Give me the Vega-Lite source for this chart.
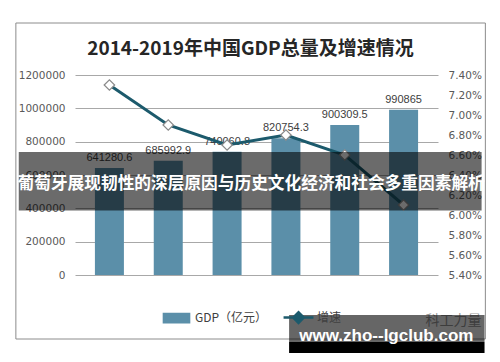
{
  "$schema": "https://vega.github.io/schema/vega-lite/v6.json",
  "width": 363,
  "height": 200,
  "autosize": "none",
  "padding": {"left": 75, "top": 75, "right": 62, "bottom": 87},
  "background": "white",
  "config": {"view": {"stroke": null}, "font": "Liberation Sans"},
  "title": {
    "text": "2014-2019年中国GDP总量及增速情况",
    "font": "Noto Sans CJK SC",
    "fontSize": 19,
    "fontWeight": "bold",
    "color": "#262626",
    "dx": -6,
    "offset": -36
  },
  "data": {
    "values": [
      {"year": 2014, "gdp": 641280.6, "rate": 0.073},
      {"year": 2015, "gdp": 685992.9, "rate": 0.069},
      {"year": 2016, "gdp": 740060.8, "rate": 0.067},
      {"year": 2017, "gdp": 820754.3, "rate": 0.068},
      {"year": 2018, "gdp": 900309.5, "rate": 0.066},
      {"year": 2019, "gdp": 990865, "rate": 0.061}
    ]
  },
  "layer": [
    {
      "data": {"values": [{}]},
      "mark": {"type": "rect", "fill": "transparent", "stroke": "#8c8c8c", "strokeWidth": 1, "clip": false},
      "encoding": {
        "x": {"datum": 2012.41, "type": "quantitative", "scale": {"domain": [2013.5, 2019.5], "nice": false, "zero": false}, "axis": null},
        "x2": {"datum": 2020.39},
        "y": {"datum": 1512000, "type": "quantitative", "scale": {"domain": [0, 1200000], "nice": false}, "axis": null},
        "y2": {"datum": -384000}
      }
    },
    {
      "layer": [
        {
          "mark": {"type": "bar", "size": 29},
          "encoding": {
            "color": {
              "datum": "GDP（亿元）",
              "scale": {"domain": ["GDP（亿元）", "增速"], "range": ["#5b8fa9", "#1c5a6c"]},
              "legend": {
                "orient": "none",
                "legendX": 87,
                "legendY": 228,
                "direction": "horizontal",
                "title": null,
                "labelFont": "Noto Sans CJK SC",
                "labelFontSize": 12,
                "labelColor": "#404040",
                "labelOffset": 4,
                "columnPadding": 10,
                "symbolSize": 700,
                "encode": {
                  "symbols": {
                    "update": {
                      "shape": {"signal": "datum.value === '增速' ? 'M-1.13,0H-0.4M0.4,0H1.13M-0.4,0L0,-0.4L0.4,0L0,0.4Z' : 'M-0.95,-0.32H0.95V0.32H-0.95Z'"},
                      "fill": {"signal": "datum.value === '增速' ? '#ffffff' : '#5b8fa9'"},
                      "stroke": {"signal": "datum.value === '增速' ? '#1c5a6c' : 'transparent'"},
                      "strokeWidth": {"value": 2.5},
                      "opacity": {"value": 1}
                    }
                  }
                }
              }
            }
          }
        },
        {
          "mark": {"type": "text", "baseline": "bottom", "dy": -5, "fontSize": 11, "color": "#404040", "font": "Liberation Sans"},
          "encoding": {
            "text": {"field": "gdp", "type": "quantitative", "format": ".1~f"}
          }
        }
      ],
      "encoding": {
        "x": {
          "field": "year",
          "type": "quantitative",
          "scale": {"domain": [2013.5, 2019.5], "nice": false, "zero": false},
          "axis": {
            "values": [2014, 2015, 2016, 2017, 2018, 2019],
            "format": "d",
            "title": null,
            "grid": false,
            "domain": false,
            "ticks": false,
            "labelFlush": false,
            "labelPadding": 10,
            "labelFontSize": 11,
            "labelColor": "#595959",
            "labelFont": "DejaVu Sans"
          }
        },
        "y": {
          "field": "gdp",
          "type": "quantitative",
          "scale": {"domain": [0, 1200000], "nice": false},
          "axis": {
            "orient": "left",
            "values": [0, 200000, 400000, 600000, 800000, 1000000, 1200000],
            "format": "d",
            "title": null,
            "domain": false,
            "ticks": false,
            "grid": true,
            "gridColor": "#a8a8a8",
            "labelPadding": 10,
            "labelFontSize": 10.5,
            "labelColor": "#595959",
            "labelFont": "DejaVu Sans"
          }
        }
      }
    },
    {
      "layer": [
        {
          "mark": {"type": "line", "strokeWidth": 3},
          "encoding": {"color": {"datum": "增速"}}
        },
        {
          "mark": {"type": "point", "shape": "diamond", "filled": true, "fill": "#ffffff", "stroke": "#8a8a8a", "strokeWidth": 1.2, "size": 110, "opacity": 1}
        }
      ],
      "encoding": {
        "x": {"field": "year", "type": "quantitative", "scale": {"domain": [2013.5, 2019.5], "nice": false, "zero": false}},
        "y": {
          "field": "rate",
          "type": "quantitative",
          "scale": {"domain": [0.054, 0.074], "nice": false, "zero": false},
          "axis": {
            "orient": "right",
            "values": [0.054, 0.056, 0.058, 0.06, 0.062, 0.064, 0.066, 0.068, 0.07, 0.072, 0.074],
            "format": ".2%",
            "title": null,
            "domain": false,
            "ticks": false,
            "grid": false,
            "labelPadding": 10,
            "labelFontSize": 10.5,
            "labelColor": "#595959",
            "labelFont": "DejaVu Sans"
          }
        }
      }
    },
    {
      "data": {"values": [{}]},
      "mark": {"type": "rect", "color": "#000000", "opacity": 0.58, "clip": false},
      "encoding": {
        "x": {"datum": 2012.459, "type": "quantitative", "scale": {"domain": [2013.5, 2019.5], "nice": false, "zero": false}},
        "x2": {"datum": 2020.326},
        "y": {"datum": 738000, "type": "quantitative", "scale": {"domain": [0, 1200000], "nice": false}, "axis": null},
        "y2": {"datum": 387000}
      }
    },
    {
      "data": {"values": [{"t": "葡萄牙展现韧性的深层原因与历史文化经济和社会多重因素解析"}]},
      "mark": {"type": "text", "font": "Noto Sans CJK SC", "fontWeight": "bold", "fontSize": 16.7, "color": "#ffffff", "align": "center", "baseline": "middle", "clip": false},
      "encoding": {
        "x": {"datum": 2016.409, "type": "quantitative", "scale": {"domain": [2013.5, 2019.5], "nice": false, "zero": false}},
        "y": {"datum": 546000, "type": "quantitative", "scale": {"domain": [0, 1200000], "nice": false}, "axis": null},
        "text": {"field": "t"}
      }
    },
    {
      "data": {"values": [{"t": "科工力量"}]},
      "mark": {"type": "text", "font": "Noto Sans CJK SC", "fontSize": 14, "color": "#9a9a9a", "align": "center", "baseline": "middle", "clip": false},
      "encoding": {
        "x": {"datum": 2019.847, "type": "quantitative", "scale": {"domain": [2013.5, 2019.5], "nice": false, "zero": false}},
        "y": {"datum": -274000, "type": "quantitative", "scale": {"domain": [0, 1200000], "nice": false}, "axis": null},
        "text": {"field": "t"}
      }
    },
    {
      "data": {"values": [{}]},
      "mark": {"type": "rect", "color": "#000000", "opacity": 0.6, "clip": false},
      "encoding": {
        "x": {"datum": 2017.054, "type": "quantitative", "scale": {"domain": [2013.5, 2019.5], "nice": false, "zero": false}},
        "x2": {"datum": 2020.376},
        "y": {"datum": -240000, "type": "quantitative", "scale": {"domain": [0, 1200000], "nice": false}, "axis": null},
        "y2": {"datum": -402000}
      }
    },
    {
      "data": {"values": [{}]},
      "mark": {"type": "rect", "color": "#000000", "opacity": 1, "clip": false},
      "encoding": {
        "x": {"datum": 2017.054, "type": "quantitative", "scale": {"domain": [2013.5, 2019.5], "nice": false, "zero": false}},
        "x2": {"datum": 2020.376},
        "y": {"datum": -402000, "type": "quantitative", "scale": {"domain": [0, 1200000], "nice": false}, "axis": null},
        "y2": {"datum": -468000}
      }
    },
    {
      "data": {"values": [{"t": "www.zho--lgclub.com"}]},
      "mark": {"type": "text", "font": "Liberation Sans", "fontWeight": "bold", "fontSize": 17, "color": "#ffffff", "align": "center", "baseline": "middle", "clip": false},
      "encoding": {
        "x": {"datum": 2018.707, "type": "quantitative", "scale": {"domain": [2013.5, 2019.5], "nice": false, "zero": false}},
        "y": {"datum": -366000, "type": "quantitative", "scale": {"domain": [0, 1200000], "nice": false}, "axis": null},
        "text": {"field": "t"}
      }
    }
  ],
  "resolve": {"scale": {"y": "independent"}}
}
